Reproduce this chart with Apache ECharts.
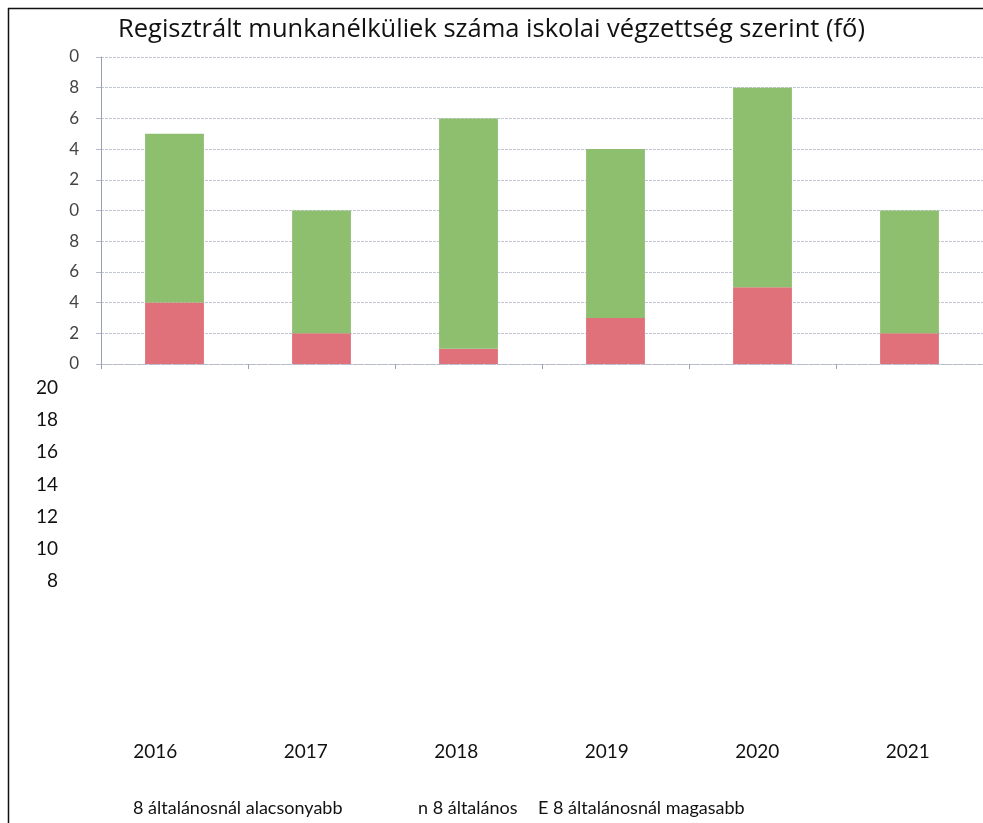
<!DOCTYPE html>
<html>
<head>
<meta charset="utf-8">
<script src="https://cdn.jsdelivr.net/npm/echarts@6/dist/echarts.min.js"></script>
<style>
  html, body { margin: 0; padding: 0; background: #fff; }
  #chart { width: 983px; height: 823px; }
</style>
</head>
<body>
<div id="chart"></div>
<script>
const years = ['2016', '2017', '2018', '2019', '2020', '2021'];
const alacsonyabb = [4, 2, 1, 3, 5, 2];
const altalanos = [11, 8, 15, 11, 13, 8];
const magasabb = [0, 0, 0, 0, 0, 0];
const seriesNames = ['8 általánosnál alacsonyabb', 'n 8 általános', 'E 8 általánosnál magasabb'];

const font = 'Lato';

const getOption = () => {
  return {
    backgroundColor: '#fff',
    animation: false,
    title: {
      text: 'Regisztrált munkanélküliek száma iskolai végzettség szerint (fő)',
      left: 'center',
      top: 12,
      textStyle: { fontFamily: 'Open Sans', fontSize: 25.5, fontWeight: 'normal', color: '#111' }
    },
    legend: [
      { left: 123, top: 794, data: [seriesNames[0]] },
      { left: 408, top: 794, data: [seriesNames[1]] },
      { left: 528, top: 794, data: [seriesNames[2]] }
    ].map(l => Object.assign(l, {
      itemWidth: 0,
      itemHeight: 0,
      textStyle: { fontFamily: font, fontSize: 18, color: '#111' }
    })),
    grid: [
      { left: 101, top: 57, width: 890, height: 307 },
      { left: 80, top: 388, width: 914, height: 193 }
    ],
    xAxis: [
      {
        type: 'category',
        gridIndex: 0,
        data: years,
        axisLine: { lineStyle: { color: '#b5b9c9', type: 'dashed' } },
        axisTick: { show: true, length: 5, lineStyle: { color: '#9aa0b3' } },
        axisLabel: { show: false }
      },
      {
        type: 'category',
        gridIndex: 1,
        data: years,
        offset: 153,
        axisLine: { show: false },
        axisTick: { show: false },
        axisLabel: { fontFamily: font, fontSize: 19, color: '#111' }
      }
    ],
    yAxis: [
      {
        type: 'value',
        gridIndex: 0,
        min: 0,
        max: 20,
        interval: 2,
        axisLine: { show: true, lineStyle: { color: '#9aa0b3' } },
        axisTick: { show: true, length: 5, lineStyle: { color: '#b5b9c9' } },
        axisLabel: {
          margin: 22,
          fontFamily: font,
          fontSize: 17,
          color: '#444',
          formatter: v => String(v % 10)
        },
        splitLine: { lineStyle: { color: '#c3c7d5', type: [3, 1] } }
      },
      {
        type: 'value',
        gridIndex: 1,
        min: 8,
        max: 20,
        interval: 2,
        axisLine: { show: false },
        axisTick: { show: false },
        splitLine: { show: false },
        axisLabel: { margin: 22, fontFamily: font, fontSize: 19, color: '#111' }
      }
    ],
    series: [
      {
        name: seriesNames[0],
        type: 'bar',
        stack: 'a',
        barWidth: '40%',
        data: alacsonyabb,
        color: '#e0707a'
      },
      {
        name: seriesNames[1],
        type: 'bar',
        stack: 'a',
        data: altalanos,
        color: '#8dbf6f'
      },
      {
        name: seriesNames[2],
        type: 'bar',
        stack: 'a',
        data: magasabb,
        color: '#6f8fc9'
      }
    ],
    graphic: [
      { type: 'line', shape: { x1: 8, y1: 8.5, x2: 983, y2: 8.5 }, style: { stroke: '#111', lineWidth: 1.5 } },
      { type: 'line', shape: { x1: 8.5, y1: 8, x2: 8.5, y2: 823 }, style: { stroke: '#111', lineWidth: 1.5 } }
    ]
  };
};

const initChart = () => {
  const chart = echarts.init(document.getElementById('chart'));
  chart.setOption(getOption());
};

window.addEventListener('load', () => {
  initChart();
});
</script>
</body>
</html>
